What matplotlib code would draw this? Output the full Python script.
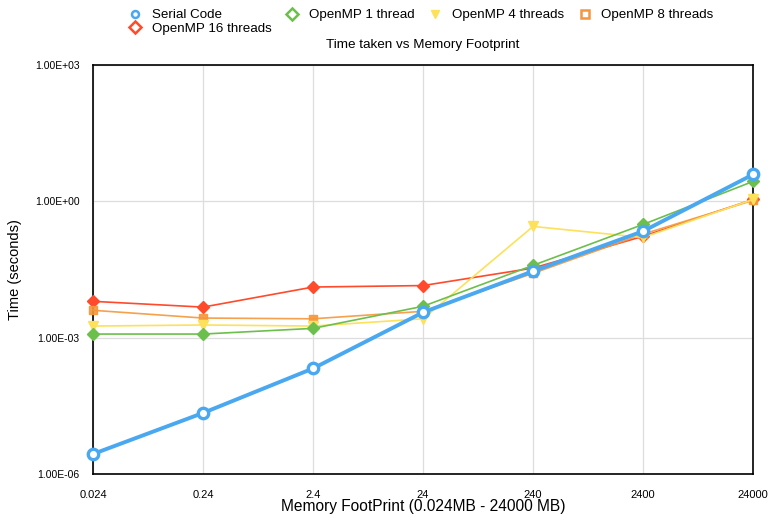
import numpy as np
import matplotlib
matplotlib.use('Agg')
import matplotlib.pyplot as plt
from matplotlib.lines import Line2D
from matplotlib.ticker import FixedLocator, NullLocator

plt.rcParams['font.family'] = ['Liberation Sans', 'DejaVu Sans']

# 数据
footprints = ['0.024', '0.24', '2.4', '24', '240', '2400', '24000']
serial = [2.75e-6, 2.2e-5, 2.1e-4, 3.6e-3, 2.9e-2, 0.22, 3.9]
omp_1 = [1.2e-3, 1.2e-3, 1.6e-3, 4.9e-3, 3.9e-2, 0.31, 2.75]
omp_4 = [1.8e-3, 1.9e-3, 1.8e-3, 2.6e-3, 0.28, 0.16, 1.1]
omp_8 = [4.0e-3, 2.7e-3, 2.6e-3, 3.8e-3, 2.6e-2, 0.19, 1.05]
omp_16 = [6.3e-3, 4.7e-3, 1.3e-2, 1.4e-2, 3.4e-2, 0.17, 1.1]
y_ticks = [1e-6, 1e-3, 1e0, 1e3]
y_tick_labels = ['1.00E-06', '1.00E-03', '1.00E+00', '1.00E+03']

c_serial = '#4aa8f0'
c_green = '#6cbf4c'
c_yellow = '#fde15a'
c_orange = '#f5973a'
c_red = '#ff4a2c'

fig = plt.figure(figsize=(7.73, 5.17), dpi=100)
ax = fig.add_axes([0.1203, 0.0832, 0.854, 0.7911])

x = np.arange(len(footprints))

# 多线程曲线（细线 + 实心标记）
ax.plot(x, omp_16, color=c_red, lw=1.2, marker='D', ms=6.5, mec=c_red, mfc=c_red, zorder=3, clip_on=False)
ax.plot(x, omp_8, color=c_orange, lw=1.2, marker='s', ms=6, mec=c_orange, mfc=c_orange, zorder=3, alpha=0.9, clip_on=False)
ax.plot(x, omp_4, color=c_yellow, lw=1.2, marker='v', ms=7, mec=c_yellow, mfc=c_yellow, zorder=3, clip_on=False)
ax.plot(x, omp_1, color=c_green, lw=1.2, marker='D', ms=6.5, mec=c_green, mfc=c_green, zorder=3, clip_on=False)
# 串行代码（粗线 + 空心圆）
ax.plot(x, serial, color=c_serial, lw=2.8, marker='o', ms=7.5, mec=c_serial, mfc='white', mew=2.4,
        zorder=4, clip_on=False)

ax.set_yscale('log')
ax.set_ylim(1e-6, 1e3)
ax.set_xlim(0, len(footprints) - 1)
ax.yaxis.set_major_locator(FixedLocator(y_ticks))
ax.yaxis.set_minor_locator(NullLocator())
ax.set_yticklabels(y_tick_labels, fontsize=7.5)
ax.set_xticks(x)
ax.set_xticklabels(footprints, fontsize=8)
ax.tick_params(axis='x', length=0, pad=11.5)
ax.tick_params(axis='y', length=0, pad=9.5)

ax.grid(True, color='#dddddd', lw=0.9)
ax.set_axisbelow(True)
for sp in ax.spines.values():
    sp.set_color('black')
    sp.set_linewidth(1.2)

ax.set_xlabel('Memory FootPrint (0.024MB - 24000 MB)', fontsize=11.2, labelpad=-1)
ax.yaxis.set_label_coords(-0.1076, 0.535)
ax.set_ylabel('Time (seconds)', fontsize=10.5)

# 图例（两行，按行顺序排列）
handles = [
    Line2D([0], [0], ls='', marker='o', ms=5, mfc='white', mec=c_serial, mew=1.8, label='Serial Code'),
    Line2D([0], [0], ls='', marker='D', ms=6, mfc='white', mec=c_red, mew=1.8, label='OpenMP 16 threads'),
    Line2D([0], [0], ls='', marker='D', ms=6, mfc='white', mec=c_green, mew=1.8, label='OpenMP 1 thread'),
    Line2D([0], [0], ls='', marker='v', ms=6, mfc=c_yellow, mec=c_yellow, label='OpenMP 4 threads'),
    Line2D([0], [0], ls='', marker='s', ms=6, mfc='white', mec=c_orange, mew=1.8, label='OpenMP 8 threads'),
]
fig.legend(handles=handles, ncol=4, loc='upper left', bbox_to_anchor=(129 / 773, 1 - 9 / 517),
           frameon=False, fontsize=9.6, handlelength=0.95, handletextpad=0.75,
           columnspacing=1.1, labelspacing=0.1, borderaxespad=0, borderpad=0)

fig.text(0.547, 1 - 45 / 517, 'Time taken vs Memory Footprint', ha='center', va='center', fontsize=9.7)

fig.savefig('out.png', dpi=100)
